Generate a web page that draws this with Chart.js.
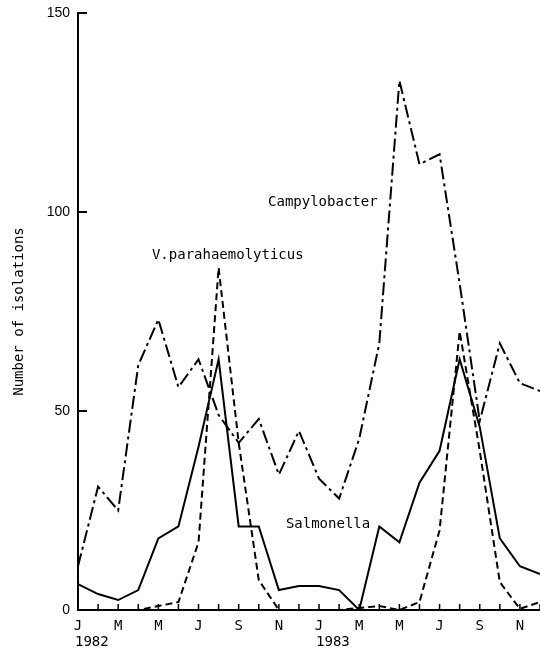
<!DOCTYPE html>
<html>
<head>
<meta charset="utf-8">
<script src="https://cdn.jsdelivr.net/npm/chart.js@4.4.1/dist/chart.umd.min.js"></script>
<style>
  html, body { margin: 0; padding: 0; background: #fff; }
  #wrap { width: 540px; height: 652px; position: relative; }
</style>
</head>
<body>
<div id="wrap"><canvas id="c"></canvas></div>
<script>
// ---- data ----
const monthLabels = ['J','F','M','A','M','J','J','A','S','O','N','D',
                     'J','F','M','A','M','J','J','A','S','O','N','D'];
const yearLabels = ['1982', '1983'];
const yearStartIndex = [0, 12];
const yTickValues = [0, 50, 100, 150];
const salmonella = [6.5, 4, 2.5, 5, 18, 21, 41, 63, 21, 21, 5, 6,
                    6, 5, 0, 21, 17, 32, 40, 63, 46, 18, 11, 9];
const vParahaemolyticus = [0, 0, 0, 0, 1, 2, 17, 86, 42, 7.5, 0, 0,
                           0, 0, 0.5, 1, 0, 2, 20, 70, 40, 7, 0.3, 2];
const campylobacter = [11, 31, 25, 61.5, 73, 56, 63, 49, 42, 48, 34, 45,
                       33, 28, 43, 67, 133, 112, 114.5, 82, 47.5, 67, 57, 55];
const seriesNames = ['Salmonella', 'V.parahaemolyticus', 'Campylobacter'];
const yAxisTitle = 'Number of isolations';

const MONO = '"DejaVu Sans Mono", "Liberation Mono", monospace';

const decor = {
  id: 'decor',
  afterDraw(chart) {
    const { ctx, chartArea: a, scales: { x, y } } = chart;
    ctx.save();
    ctx.strokeStyle = '#000';
    ctx.fillStyle = '#000';
    ctx.lineWidth = 1.5;
    // month ticks (inward)
    for (let i = 0; i < monthLabels.length; i++) {
      const px = x.getPixelForValue(i);
      ctx.beginPath();
      ctx.moveTo(px, a.bottom);
      ctx.lineTo(px, a.bottom - 6);
      ctx.stroke();
    }
    // y ticks (inward)
    ctx.lineWidth = 2;
    yTickValues.forEach(v => {
      const py = y.getPixelForValue(v);
      ctx.beginPath();
      ctx.moveTo(a.left, py);
      ctx.lineTo(a.left + 9, py);
      ctx.stroke();
    });
    // years
    ctx.font = '14px ' + MONO;
    ctx.textAlign = 'left';
    ctx.textBaseline = 'middle';
    yearLabels.forEach((t, k) => {
      ctx.fillText(t, x.getPixelForValue(yearStartIndex[k]) - 3, a.bottom + 32);
    });
    // series annotations
    const step = x.getPixelForValue(1) - x.getPixelForValue(0);
    const ann = [
      { text: seriesNames[2], xi: 9.46, yv: 102.5 },
      { text: seriesNames[1], xi: 3.68, yv: 89.2 },
      { text: seriesNames[0], xi: 10.35, yv: 21.4 }
    ];
    ann.forEach(o => {
      ctx.fillText(o.text, x.getPixelForValue(0) + o.xi * step, y.getPixelForValue(o.yv));
    });
    // y axis title
    ctx.translate(19, (a.top + a.bottom) / 2);
    ctx.rotate(-Math.PI / 2);
    ctx.textAlign = 'center';
    ctx.fillText(yAxisTitle, 0, 0);
    ctx.restore();
  }
};

new Chart(document.getElementById('c'), {
  type: 'line',
  data: {
    labels: monthLabels,
    datasets: [
      { label: seriesNames[0], data: salmonella, borderColor: '#000', borderWidth: 2,
        pointRadius: 0, tension: 0, fill: false },
      { label: seriesNames[1], data: vParahaemolyticus, borderColor: '#000', borderWidth: 2,
        borderDash: [7, 4], pointRadius: 0, tension: 0, fill: false },
      { label: seriesNames[2], data: campylobacter, borderColor: '#000', borderWidth: 2,
        borderDash: [13, 4, 3, 4], pointRadius: 0, tension: 0, fill: false }
    ]
  },
  options: {
    responsive: true,
    maintainAspectRatio: false,
    animation: false,
    layout: { padding: { top: 13, right: 0, left: 0, bottom: 0 } },
    plugins: { legend: { display: false }, tooltip: { enabled: false } },
    scales: {
      x: {
        offset: false,
        grid: { display: true, drawOnChartArea: false, drawTicks: false },
        border: { display: true, color: '#000', width: 2 },
        ticks: {
          autoSkip: false, maxRotation: 0, minRotation: 0, padding: 8,
          color: '#000', font: { family: MONO, size: 14 },
          callback: (v, i) => (i % 2 === 0 ? monthLabels[i] : '')
        },
        afterFit: s => { s.height = 42; s.paddingLeft = 0; s.paddingRight = 0; }
      },
      y: {
        min: 0, max: 150,
        grid: { display: true, drawOnChartArea: false, drawTicks: false },
        border: { display: true, color: '#000', width: 2 },
        ticks: {
          stepSize: 50, padding: 8, color: '#000',
          font: { family: '"Liberation Sans", Arial, sans-serif', size: 14 }
        },
        afterFit: s => { s.width = 78; s.paddingTop = 0; s.paddingBottom = 0; }
      }
    }
  },
  plugins: [decor]
});
</script>
</body>
</html>
